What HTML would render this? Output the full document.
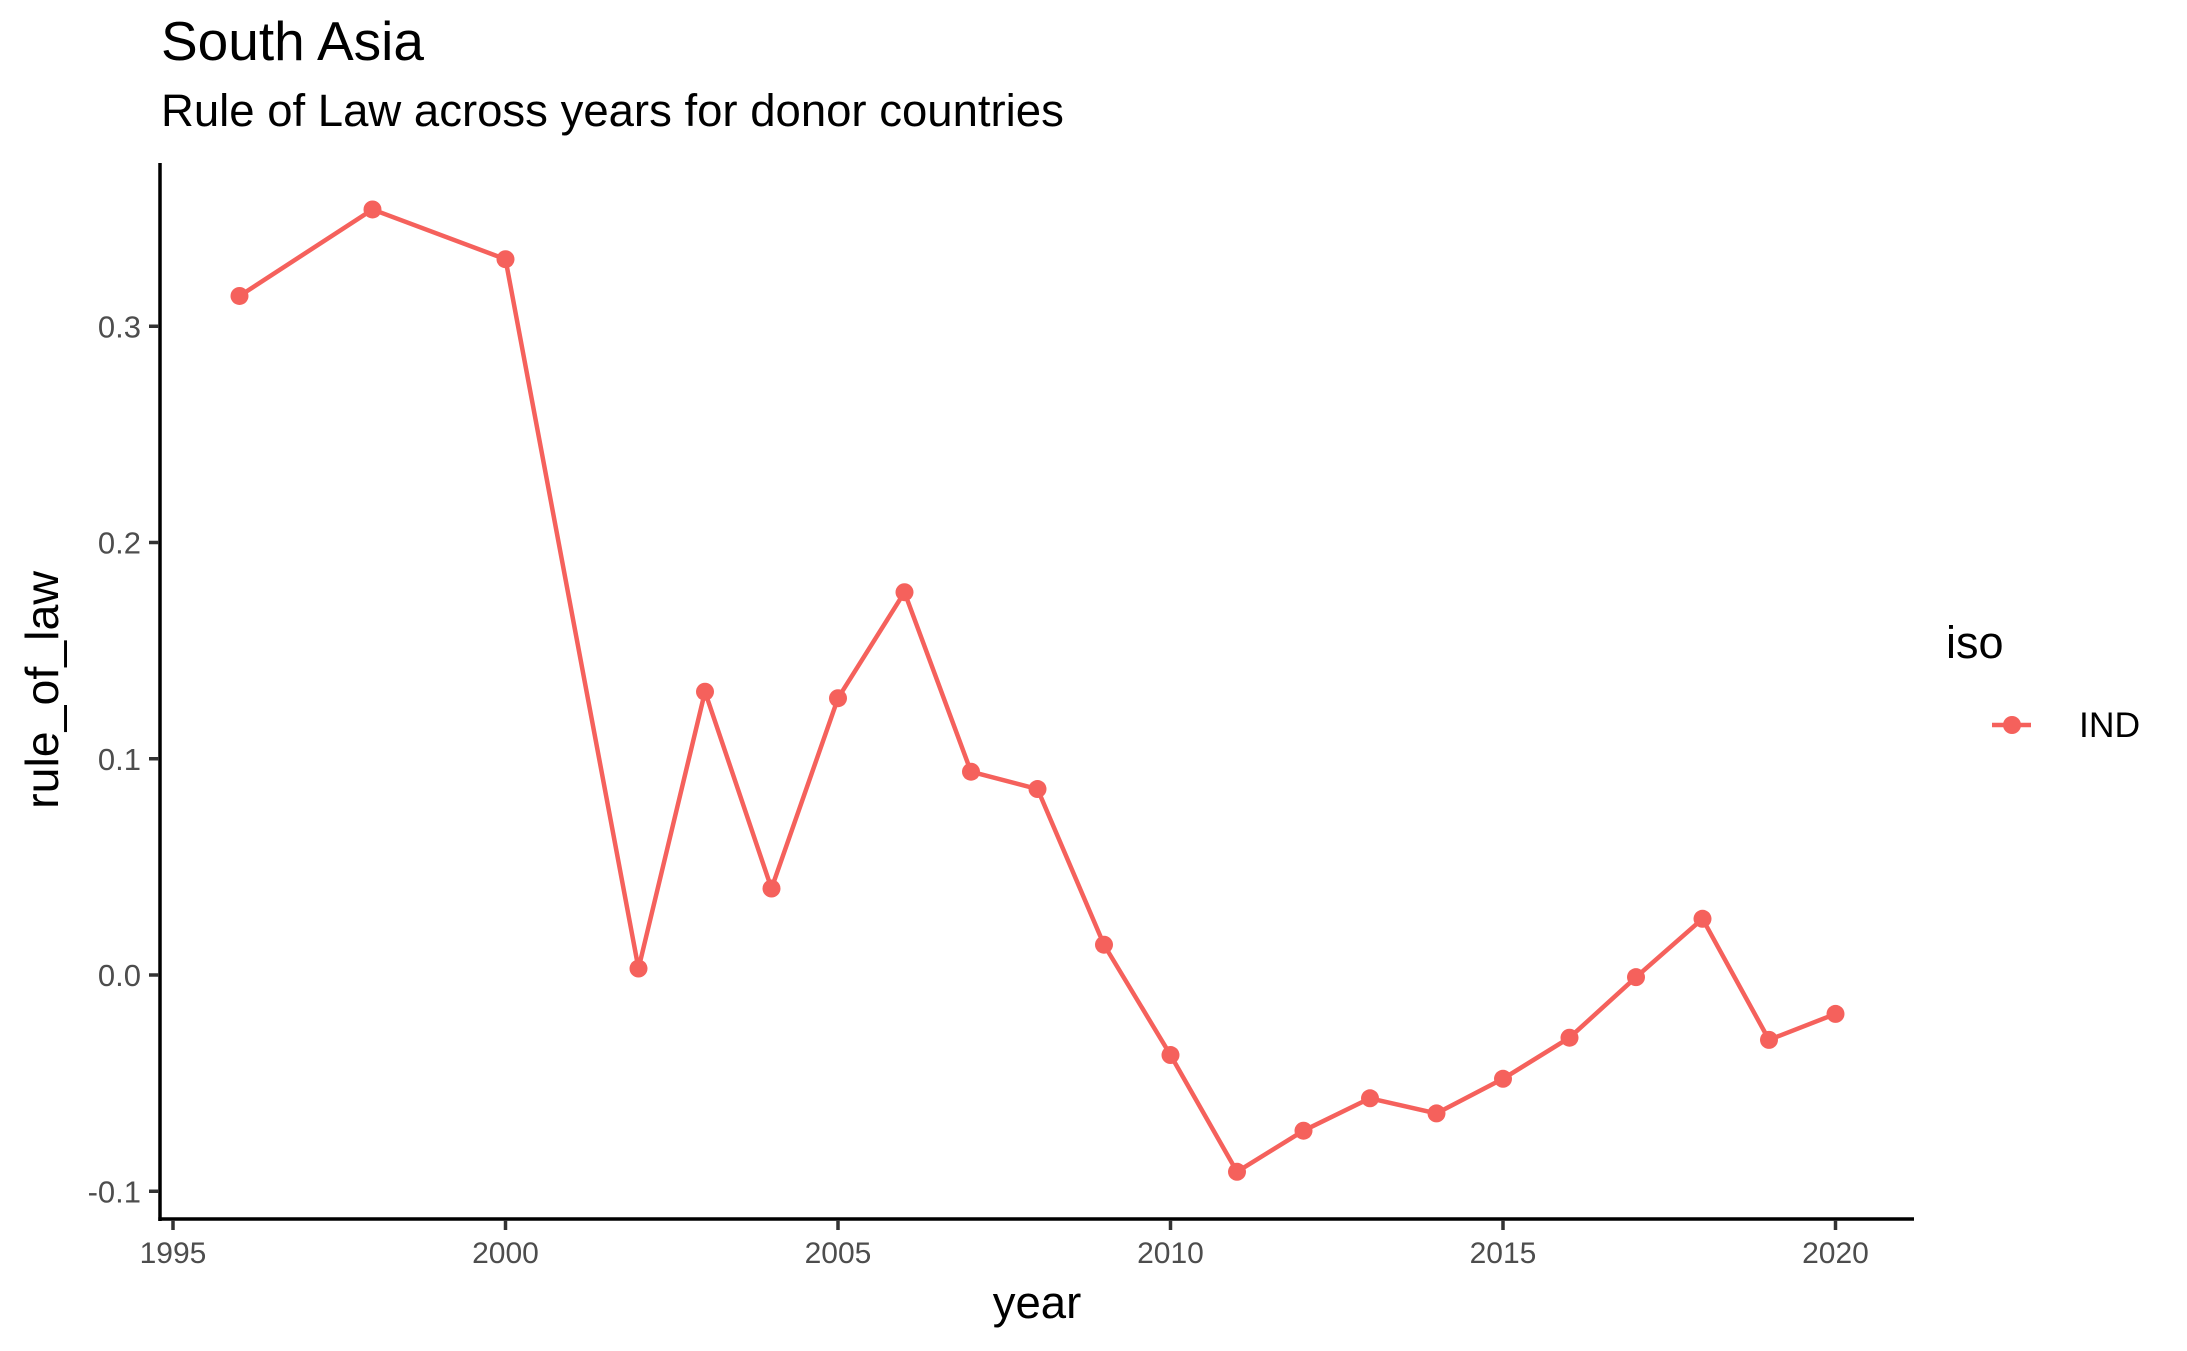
<!DOCTYPE html>
<html><head><meta charset="utf-8"><style>
html,body{margin:0;padding:0;background:#fff;}
svg{display:block;font-family:"Liberation Sans",Arial,sans-serif;}
</style></head><body>
<svg id="chart" width="2187" height="1351" viewBox="0 0 2187 1351" xmlns="http://www.w3.org/2000/svg">
<text x="161" y="60" font-size="55" fill="#000">South Asia</text>
<text x="161" y="126" font-size="45.5" fill="#000">Rule of Law across years for donor countries</text>
<g id="axes"></g>
<g id="marks"></g>
<text x="1037" y="1318" font-size="45.5" text-anchor="middle" fill="#000">year</text>
<text transform="translate(58,690) rotate(-90)" font-size="46.5" text-anchor="middle" fill="#000">rule_of_law</text>
<g>
<text x="1946" y="658" font-size="45" fill="#000">iso</text>
<line x1="1992" y1="725" x2="2031" y2="725" stroke="#F5615C" stroke-width="4.5"/>
<circle cx="2012" cy="725" r="9" fill="#F5615C"/>
<text x="2079" y="737" font-size="35.5" fill="#000">IND</text>
</g>
</svg>
<script>
const years = [1996,1998,2000,2002,2003,2004,2005,2006,2007,2008,2009,2010,2011,2012,2013,2014,2015,2016,2017,2018,2019,2020];
const values = [0.314,0.354,0.331,0.003,0.131,0.040,0.128,0.177,0.094,0.086,0.014,-0.037,-0.091,-0.072,-0.057,-0.064,-0.048,-0.029,-0.001,0.026,-0.030,-0.018];
const xTicks = [1995,2000,2005,2010,2015,2020];
const yTicks = [-0.1,0.0,0.1,0.2,0.3];
const yTickLabels = ["-0.1","0.0","0.1","0.2","0.3"];

const NS = "http://www.w3.org/2000/svg";
function xs(v){ return 173 + (v - 1995) * 66.5; }
function ys(v){ return 975 - v * 2162.5; }
function mk(tag, attrs, parent){
  const e = document.createElementNS(NS, tag);
  for (const k in attrs) e.setAttribute(k, attrs[k]);
  parent.appendChild(e);
  return e;
}
const axes = document.getElementById('axes');
const marks = document.getElementById('marks');

const yAxis = mk('line', {x1:160, y1:163, x2:160, y2:1221, stroke:'#000', 'stroke-width':3.5}, axes);


const xAxis = mk('line', {x1:158.3, y1:1219, x2:1914, y2:1219, stroke:'#000', 'stroke-width':3.5}, axes);



xTicks.forEach((t) => {
  const x = xs(t);
  const tk = mk('line', {x1:x, y1:1220, x2:x, y2:1230, stroke:'#333', 'stroke-width':3.5}, axes);
  
  
  const lb = mk('text', {x:x, y:1263, 'font-size':30, 'text-anchor':'middle', fill:'#4d4d4d'}, axes);
  lb.textContent = String(t);
  
  
});
yTicks.forEach((t, i) => {
  const y = ys(t);
  const tk = mk('line', {x1:149, y1:y, x2:159, y2:y, stroke:'#333', 'stroke-width':3.5}, axes);
  
  
  const lb = mk('text', {x:141, y:y + 11, 'font-size':31, 'text-anchor':'end', fill:'#4d4d4d'}, axes);
  lb.textContent = yTickLabels[i];
  
  
});

const pts = years.map((yr, i) => xs(yr) + ',' + ys(values[i])).join(' ');
const line = mk('polyline', {points:pts, fill:'none', stroke:'#F5615C', 'stroke-width':4.5, 'stroke-linejoin':'round'}, marks);


years.forEach((yr, i) => {
  const c = mk('circle', {cx:xs(yr), cy:ys(values[i]), r:9, fill:'#F5615C'}, marks);
  
  
});
</script>
</body></html>
